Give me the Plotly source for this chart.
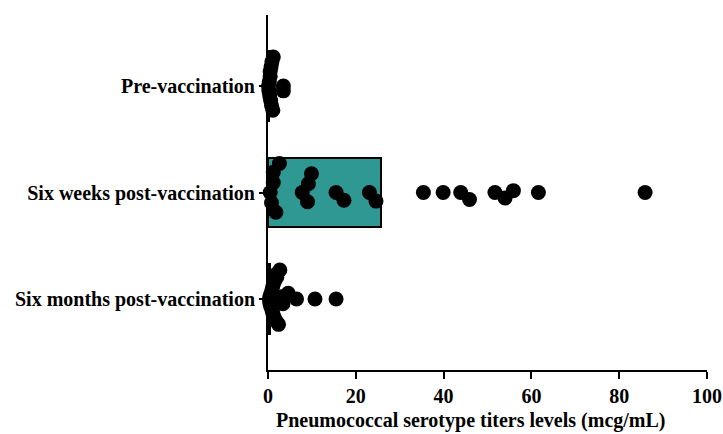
import numpy as np
import plotly.graph_objects as go

categories = ["Pre-vaccination", "Six weeks post-vaccination", "Six months post-vaccination"]
mean_values = [0.3, 25.7, 0.5]

pre_vaccination = [0.2, 0.4, 0.5, 0.7, 0.9, 1.1, 0.3, 0.6, 3.5, 3.5, 0.8, 1.2, 0.1, 0.5]
six_weeks = [1.2, 0.5, 1.8, 1.2, 2.6, 0.8, 9.9, 7.8, 9.2, 9.0, 15.5, 17.3, 24.6, 23.1,
             35.4, 39.9, 43.9, 45.9, 51.7, 55.9, 54.0, 61.6, 85.9]
six_months = [0.3, 0.6, 0.9, 1.2, 1.5, 1.8, 2.1, 2.4, 0.5, 1.0, 1.4, 2.0, 2.7, 3.4, 3.4,
              0.8, 0.4, 1.1, 2.9, 4.6, 6.5, 10.7, 15.5]

groups = [pre_vaccination, six_weeks, six_months]

# beeswarm layout (pixel space) -> category units
PX_X = 439 / 100.0
PX_CAT = 106.5
D = 12.0
LIM = 29.0


def beeswarm(vals):
    vals = np.asarray(vals, float)
    order = np.argsort(vals, kind="stable")
    placed = []
    offs = np.zeros(len(vals))
    for i in order:
        x = vals[i] * PX_X
        cands = [0.0]
        for (xj, yj) in placed:
            dx = abs(x - xj)
            if dx < D:
                h = np.sqrt(D * D - dx * dx)
                cands += [yj + h, yj - h]
        cands.sort(key=lambda c: (abs(c), -c))
        for c in cands:
            if all((x - xj) ** 2 + (c - yj) ** 2 >= D * D - 1e-6 for (xj, yj) in placed):
                offs[i] = c
                placed.append((x, c))
                break
    m = np.max(np.abs(offs)) if len(offs) else 0
    if m > LIM:
        offs = offs * LIM / m
    return offs / PX_CAT


fig = go.Figure()
fig.add_trace(go.Bar(
    y=[0, 1, 2], x=mean_values, orientation="h", width=0.65,
    marker=dict(color="#2f9892", line=dict(color="black", width=2)),
    showlegend=False, hoverinfo="skip",
))

for gi, vals in enumerate(groups):
    offs = beeswarm(vals)
    fig.add_trace(go.Scatter(
        x=vals, y=[gi + o for o in offs], mode="markers",
        marker=dict(color="black", size=15, line=dict(width=0)),
        cliponaxis=False, showlegend=False,
    ))

font = dict(family="Liberation Serif, Times New Roman, serif", size=20, color="black", weight="bold")

fig.update_layout(
    width=723, height=434,
    margin=dict(l=268, r=16, t=15, b=64, autoexpand=False),
    paper_bgcolor="white", plot_bgcolor="white",
    font=font,
    bargap=0,
    annotations=[dict(
        text="Pneumococcal serotype titers levels (mcg/mL)",
        xref="paper", yref="paper", x=0.462, y=-50 / 355,
        xanchor="center", yanchor="middle", showarrow=False, font=font,
    )],
)
fig.update_xaxes(
    range=[0, 100], dtick=20, tick0=0,
    showline=True, linecolor="black", linewidth=2,
    ticks="outside", ticklen=7, tickwidth=2, tickcolor="black",
    showgrid=False, zeroline=False, automargin=False,
    tickfont=font,
)
fig.update_yaxes(
    range=[2.667, -0.667], tickvals=[0, 1, 2], ticktext=categories,
    showline=True, linecolor="black", linewidth=2,
    ticks="outside", ticklen=7, tickwidth=2, tickcolor="black",
    showgrid=False, zeroline=False, automargin=False,
    tickfont=font,
)

fig.write_html(
    "out.html",
    config={"displayModeBar": False},
    post_script="document.body.style.margin='0';document.body.style.overflow='hidden';",
)
